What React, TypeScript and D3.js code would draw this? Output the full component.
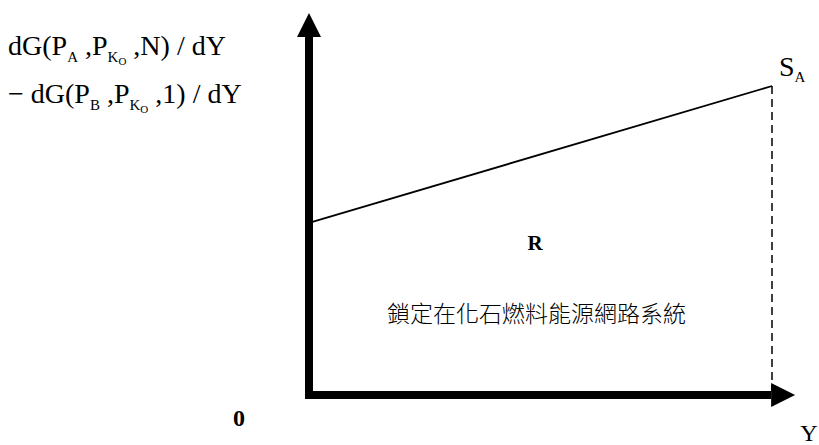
import React, { useEffect, useRef } from 'react';
import * as d3 from 'd3';

// Y quantity at the origin and at S_A
const yQuantity = [0, 10];
// net marginal benefit dG(PA..)/dY - dG(PB..)/dY at those two points
const netBenefit = [5.57, 10];
// how far the axes reach (in data units)
const xExtent = [0, 10.5];
const yExtent = [0, 12.36];

const regionLabel = 'R';
const lockLabel = '鎖定在化石燃料能源網路系統';
const originLabel = '0';
const xAxisLabel = 'Y';

const serif = '"Liberation Serif", "Times New Roman", serif';

const App = () => {
  const ref = useRef<SVGSVGElement>(null);

  const width = 819;
  const height = 445;

  const x = d3.scaleLinear().domain([0, 10]).range([309, 772]);
  const y = d3.scaleLinear().domain([0, 10]).range([395, 86]);

  useEffect(() => {
    const svg = d3.select(ref.current);
    svg.select('#plot').selectAll('*').remove();
    const g = svg.select('#plot');

    const x0 = x(xExtent[0]);
    const y0 = y(yExtent[0]);
    const xTip = x(xExtent[1]);
    const yTip = y(yExtent[1]);
    const head = 24;
    const half = 12;

    // vertical axis shaft + head
    g.append('line')
      .attr('x1', x0).attr('x2', x0)
      .attr('y1', y0 + 4).attr('y2', yTip + head)
      .attr('stroke', '#000').attr('stroke-width', 8);
    g.append('path')
      .attr('d', `M${x0 - half},${yTip + head} L${x0},${yTip} L${x0 + half},${yTip + head} Z`)
      .attr('fill', '#000');

    // horizontal axis shaft + head
    g.append('line')
      .attr('x1', x0 - 4).attr('x2', xTip - head)
      .attr('y1', y0).attr('y2', y0)
      .attr('stroke', '#000').attr('stroke-width', 8);
    g.append('path')
      .attr('d', `M${xTip - head},${y0 - half} L${xTip},${y0} L${xTip - head},${y0 + half} Z`)
      .attr('fill', '#000');

    // the S_A line
    const pts = yQuantity.map((q, i) => [x(q), y(netBenefit[i])] as [number, number]);
    g.append('path')
      .attr('d', d3.line()(pts))
      .attr('fill', 'none')
      .attr('stroke', '#000')
      .attr('stroke-width', 1.8);

    // dashed drop line at the end
    const last = yQuantity.length - 1;
    g.append('line')
      .attr('x1', x(yQuantity[last])).attr('x2', x(yQuantity[last]))
      .attr('y1', y(netBenefit[last])).attr('y2', y0 - 4)
      .attr('stroke', '#000')
      .attr('stroke-width', 1.5)
      .attr('stroke-dasharray', '8,5');
  }, []);

  return (
    <svg ref={ref} width={width} height={height}
      style={{ position: 'absolute', left: 0, top: 0, background: '#fff' }}>
      <g id="plot" />
      <g fontFamily={serif} fill="#000">
        <text x={8} y={55} fontSize={28}>
          dG(P<tspan dy={7} fontSize={15}>A</tspan>
          <tspan dy={-7}> ,P</tspan>
          <tspan dy={7} fontSize={15}>K</tspan>
          <tspan dy={3} fontSize={11}>O</tspan>
          <tspan dy={-10}> ,N) / dY</tspan>
        </text>
        <text x={8} y={103} fontSize={28}>
          − dG(P<tspan dy={7} fontSize={15}>B</tspan>
          <tspan dy={-7}> ,P</tspan>
          <tspan dy={7} fontSize={15}>K</tspan>
          <tspan dy={3} fontSize={11}>O</tspan>
          <tspan dy={-10}> ,1) / dY</tspan>
        </text>
        <text x={779} y={76} fontSize={28}>
          S<tspan dy={6} fontSize={15}>A</tspan>
        </text>
        <text x={535} y={250} fontSize={21} fontWeight="bold" textAnchor="middle">{regionLabel}</text>
        <text x={239} y={426} fontSize={24} fontWeight="bold" textAnchor="middle">{originLabel}</text>
        <text x={809} y={441} fontSize={24} textAnchor="middle">{xAxisLabel}</text>
      </g>
      <text x={387} y={322} fontSize={23} fontFamily='"Noto Sans CJK TC", sans-serif'
        fontWeight={300} fill="#000">{lockLabel}</text>
    </svg>
  );
};

export default App;
